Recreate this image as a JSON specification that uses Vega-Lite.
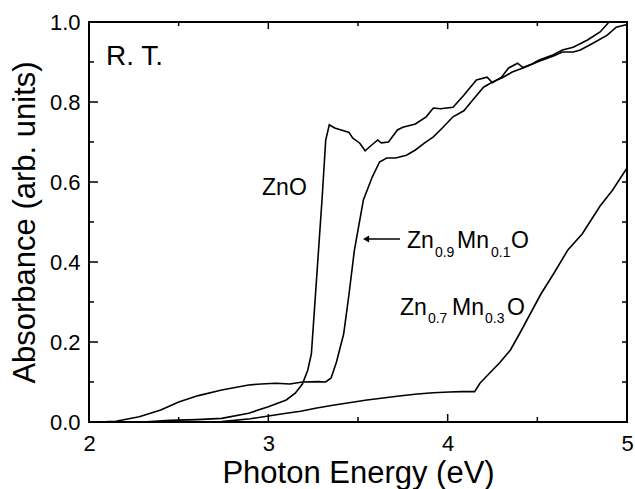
{
  "$schema": "https://vega.github.io/schema/vega-lite/v6.json",
  "width": 538,
  "height": 400,
  "autosize": {"type": "none"},
  "padding": {"left": 89, "top": 22, "right": 8, "bottom": 67},
  "config": {"view": {"stroke": "black", "strokeWidth": 2}, "font": "Liberation Sans", "background": "white"},
  "datasets": {
    "curves": [
      {"s": "ZnO", "E": 2.0, "A": 0.0}, {"s": "ZnO", "E": 2.3, "A": 0.0}, {"s": "ZnO", "E": 2.45, "A": 0.004}, {"s": "ZnO", "E": 2.6, "A": 0.006},
      {"s": "ZnO", "E": 2.74, "A": 0.009}, {"s": "ZnO", "E": 2.89, "A": 0.022}, {"s": "ZnO", "E": 3.0, "A": 0.038}, {"s": "ZnO", "E": 3.1, "A": 0.055},
      {"s": "ZnO", "E": 3.15, "A": 0.072}, {"s": "ZnO", "E": 3.19, "A": 0.095}, {"s": "ZnO", "E": 3.22, "A": 0.13}, {"s": "ZnO", "E": 3.24, "A": 0.17},
      {"s": "ZnO", "E": 3.26, "A": 0.3}, {"s": "ZnO", "E": 3.28, "A": 0.43}, {"s": "ZnO", "E": 3.3, "A": 0.56}, {"s": "ZnO", "E": 3.32, "A": 0.705},
      {"s": "ZnO", "E": 3.34, "A": 0.743}, {"s": "ZnO", "E": 3.37, "A": 0.735}, {"s": "ZnO", "E": 3.42, "A": 0.728}, {"s": "ZnO", "E": 3.45, "A": 0.724},
      {"s": "ZnO", "E": 3.47, "A": 0.71}, {"s": "ZnO", "E": 3.51, "A": 0.697}, {"s": "ZnO", "E": 3.54, "A": 0.678}, {"s": "ZnO", "E": 3.57, "A": 0.69},
      {"s": "ZnO", "E": 3.61, "A": 0.705}, {"s": "ZnO", "E": 3.63, "A": 0.698}, {"s": "ZnO", "E": 3.67, "A": 0.7}, {"s": "ZnO", "E": 3.72, "A": 0.73},
      {"s": "ZnO", "E": 3.75, "A": 0.737}, {"s": "ZnO", "E": 3.82, "A": 0.745}, {"s": "ZnO", "E": 3.88, "A": 0.763}, {"s": "ZnO", "E": 3.92, "A": 0.785},
      {"s": "ZnO", "E": 3.96, "A": 0.783}, {"s": "ZnO", "E": 4.03, "A": 0.787}, {"s": "ZnO", "E": 4.09, "A": 0.817}, {"s": "ZnO", "E": 4.16, "A": 0.855},
      {"s": "ZnO", "E": 4.22, "A": 0.862}, {"s": "ZnO", "E": 4.25, "A": 0.848}, {"s": "ZnO", "E": 4.3, "A": 0.862}, {"s": "ZnO", "E": 4.34, "A": 0.885},
      {"s": "ZnO", "E": 4.39, "A": 0.897}, {"s": "ZnO", "E": 4.42, "A": 0.886}, {"s": "ZnO", "E": 4.47, "A": 0.895}, {"s": "ZnO", "E": 4.51, "A": 0.905},
      {"s": "ZnO", "E": 4.59, "A": 0.918}, {"s": "ZnO", "E": 4.64, "A": 0.93}, {"s": "ZnO", "E": 4.7, "A": 0.937}, {"s": "ZnO", "E": 4.78, "A": 0.955},
      {"s": "ZnO", "E": 4.85, "A": 0.975}, {"s": "ZnO", "E": 4.9, "A": 1.0},
      {"s": "Mn01", "E": 2.0, "A": 0.0}, {"s": "Mn01", "E": 2.1, "A": 0.001}, {"s": "Mn01", "E": 2.15, "A": 0.002}, {"s": "Mn01", "E": 2.28, "A": 0.013},
      {"s": "Mn01", "E": 2.4, "A": 0.03}, {"s": "Mn01", "E": 2.5, "A": 0.05}, {"s": "Mn01", "E": 2.61, "A": 0.066}, {"s": "Mn01", "E": 2.74, "A": 0.08},
      {"s": "Mn01", "E": 2.89, "A": 0.0925}, {"s": "Mn01", "E": 2.96, "A": 0.095}, {"s": "Mn01", "E": 3.04, "A": 0.097}, {"s": "Mn01", "E": 3.12, "A": 0.095},
      {"s": "Mn01", "E": 3.19, "A": 0.1}, {"s": "Mn01", "E": 3.28, "A": 0.101}, {"s": "Mn01", "E": 3.32, "A": 0.1}, {"s": "Mn01", "E": 3.35, "A": 0.11},
      {"s": "Mn01", "E": 3.38, "A": 0.15}, {"s": "Mn01", "E": 3.42, "A": 0.22}, {"s": "Mn01", "E": 3.45, "A": 0.32}, {"s": "Mn01", "E": 3.48, "A": 0.43},
      {"s": "Mn01", "E": 3.53, "A": 0.555}, {"s": "Mn01", "E": 3.58, "A": 0.613}, {"s": "Mn01", "E": 3.62, "A": 0.65}, {"s": "Mn01", "E": 3.66, "A": 0.66},
      {"s": "Mn01", "E": 3.71, "A": 0.66}, {"s": "Mn01", "E": 3.77, "A": 0.667}, {"s": "Mn01", "E": 3.82, "A": 0.68}, {"s": "Mn01", "E": 3.87, "A": 0.697},
      {"s": "Mn01", "E": 3.92, "A": 0.713}, {"s": "Mn01", "E": 3.97, "A": 0.735}, {"s": "Mn01", "E": 4.03, "A": 0.763}, {"s": "Mn01", "E": 4.09, "A": 0.778},
      {"s": "Mn01", "E": 4.14, "A": 0.805}, {"s": "Mn01", "E": 4.2, "A": 0.837}, {"s": "Mn01", "E": 4.25, "A": 0.85}, {"s": "Mn01", "E": 4.31, "A": 0.862},
      {"s": "Mn01", "E": 4.36, "A": 0.875}, {"s": "Mn01", "E": 4.42, "A": 0.885}, {"s": "Mn01", "E": 4.51, "A": 0.902}, {"s": "Mn01", "E": 4.59, "A": 0.915},
      {"s": "Mn01", "E": 4.64, "A": 0.925}, {"s": "Mn01", "E": 4.7, "A": 0.925}, {"s": "Mn01", "E": 4.74, "A": 0.93}, {"s": "Mn01", "E": 4.81, "A": 0.947},
      {"s": "Mn01", "E": 4.89, "A": 0.967}, {"s": "Mn01", "E": 4.94, "A": 0.987}, {"s": "Mn01", "E": 5.0, "A": 0.994},
      {"s": "Mn03", "E": 2.0, "A": 0.0}, {"s": "Mn03", "E": 2.5, "A": 0.0}, {"s": "Mn03", "E": 2.74, "A": 0.001}, {"s": "Mn03", "E": 2.9, "A": 0.008},
      {"s": "Mn03", "E": 3.0, "A": 0.015}, {"s": "Mn03", "E": 3.1, "A": 0.022}, {"s": "Mn03", "E": 3.18, "A": 0.027}, {"s": "Mn03", "E": 3.27, "A": 0.035},
      {"s": "Mn03", "E": 3.36, "A": 0.042}, {"s": "Mn03", "E": 3.45, "A": 0.048}, {"s": "Mn03", "E": 3.55, "A": 0.055}, {"s": "Mn03", "E": 3.64, "A": 0.06},
      {"s": "Mn03", "E": 3.73, "A": 0.065}, {"s": "Mn03", "E": 3.83, "A": 0.07}, {"s": "Mn03", "E": 3.92, "A": 0.073}, {"s": "Mn03", "E": 4.01, "A": 0.075},
      {"s": "Mn03", "E": 4.08, "A": 0.076}, {"s": "Mn03", "E": 4.15, "A": 0.076}, {"s": "Mn03", "E": 4.18, "A": 0.097}, {"s": "Mn03", "E": 4.24, "A": 0.125},
      {"s": "Mn03", "E": 4.29, "A": 0.148}, {"s": "Mn03", "E": 4.35, "A": 0.18}, {"s": "Mn03", "E": 4.4, "A": 0.22}, {"s": "Mn03", "E": 4.46, "A": 0.27},
      {"s": "Mn03", "E": 4.52, "A": 0.32}, {"s": "Mn03", "E": 4.59, "A": 0.37}, {"s": "Mn03", "E": 4.67, "A": 0.43}, {"s": "Mn03", "E": 4.75, "A": 0.47},
      {"s": "Mn03", "E": 4.85, "A": 0.54}, {"s": "Mn03", "E": 4.92, "A": 0.58}, {"s": "Mn03", "E": 5.0, "A": 0.635}
    ],
    "mainText": [
      {"E": 2.965, "A": 0.5675, "t": "ZnO"},
      {"E": 3.773, "A": 0.435, "t": "Zn"}, {"E": 4.052, "A": 0.435, "t": "Mn"}, {"E": 4.353, "A": 0.435, "t": "O"},
      {"E": 3.734, "A": 0.2675, "t": "Zn"}, {"E": 4.024, "A": 0.2675, "t": "Mn"}, {"E": 4.331, "A": 0.2675, "t": "O"}
    ],
    "subText": [
      {"E": 3.929, "A": 0.4125, "t": "0.9"}, {"E": 4.242, "A": 0.4125, "t": "0.1"},
      {"E": 3.89, "A": 0.2475, "t": "0.7"}, {"E": 4.208, "A": 0.2475, "t": "0.3"}
    ],
    "rtText": [{"E": 2.095, "A": 0.8925, "t": "R. T."}],
    "arrow": [{"E": 3.545, "E2": 3.734, "A": 0.4575}],
    "xMajor": [{"v": 2}, {"v": 3}, {"v": 4}, {"v": 5}],
    "xMinor": [{"v": 2.5}, {"v": 3.5}, {"v": 4.5}],
    "yMajor": [{"v": 0}, {"v": 0.2}, {"v": 0.4}, {"v": 0.6}, {"v": 0.8}, {"v": 1.0}],
    "yMinor": [{"v": 0.1}, {"v": 0.3}, {"v": 0.5}, {"v": 0.7}, {"v": 0.9}]
  },
  "resolve": {"axis": {"x": "independent", "y": "independent"}},
  "layer": [
    {
      "data": {"name": "curves"},
      "mark": {"type": "line", "color": "black", "strokeWidth": 1.6},
      "encoding": {
        "x": {
          "field": "E", "type": "quantitative",
          "scale": {"domain": [2, 5], "nice": false, "zero": false},
          "axis": {
            "orient": "bottom", "values": [2, 3, 4, 5], "format": "d",
            "ticks": false, "tickSize": 0, "domain": false, "grid": false,
            "labelFontSize": 22, "labelPadding": 11, "labelFlush": false, "labelColor": "black",
            "title": "Photon Energy (eV)", "titleFontSize": 31, "titleFontWeight": "normal", "titlePadding": 4, "titleColor": "black"
          }
        },
        "y": {
          "field": "A", "type": "quantitative",
          "scale": {"domain": [0, 1], "nice": false},
          "axis": {
            "orient": "left", "values": [0, 0.2, 0.4, 0.6, 0.8, 1.0], "format": ".1f",
            "ticks": false, "tickSize": 0, "domain": false, "grid": false,
            "labelFontSize": 22, "labelPadding": 9, "labelFlush": false, "labelColor": "black",
            "title": "Absorbance (arb. units)", "titleFontSize": 31, "titleFontWeight": "normal", "titlePadding": 8, "titleColor": "black"
          }
        },
        "detail": {"field": "s", "type": "nominal"}
      }
    },
    {
      "data": {"name": "xMajor"},
      "mark": {"type": "rule", "color": "black", "strokeWidth": 1.5},
      "encoding": {
        "x": {"field": "v", "type": "quantitative", "axis": null},
        "y": {"datum": 0, "type": "quantitative", "axis": null},
        "y2": {"datum": 0.02}
      }
    },
    {
      "data": {"name": "xMajor"},
      "mark": {"type": "rule", "color": "black", "strokeWidth": 1.5},
      "encoding": {
        "x": {"field": "v", "type": "quantitative", "axis": null},
        "y": {"datum": 1, "type": "quantitative", "axis": null},
        "y2": {"datum": 0.9825}
      }
    },
    {
      "data": {"name": "xMinor"},
      "mark": {"type": "rule", "color": "black", "strokeWidth": 1.5},
      "encoding": {
        "x": {"field": "v", "type": "quantitative", "axis": null},
        "y": {"datum": 0, "type": "quantitative", "axis": null},
        "y2": {"datum": 0.0125}
      }
    },
    {
      "data": {"name": "xMinor"},
      "mark": {"type": "rule", "color": "black", "strokeWidth": 1.5},
      "encoding": {
        "x": {"field": "v", "type": "quantitative", "axis": null},
        "y": {"datum": 1, "type": "quantitative", "axis": null},
        "y2": {"datum": 0.99}
      }
    },
    {
      "data": {"name": "yMajor"},
      "mark": {"type": "rule", "color": "black", "strokeWidth": 1.5},
      "encoding": {
        "y": {"field": "v", "type": "quantitative", "axis": null},
        "x": {"datum": 2, "type": "quantitative", "axis": null},
        "x2": {"datum": 2.05}
      }
    },
    {
      "data": {"name": "yMinor"},
      "mark": {"type": "rule", "color": "black", "strokeWidth": 1.5},
      "encoding": {
        "y": {"field": "v", "type": "quantitative", "axis": null},
        "x": {"datum": 2, "type": "quantitative", "axis": null},
        "x2": {"datum": 2.028}
      }
    },
    {
      "data": {"name": "yMajor"},
      "mark": {"type": "rule", "color": "black", "strokeWidth": 1.5},
      "encoding": {
        "y": {"field": "v", "type": "quantitative", "axis": null},
        "x": {"datum": 5, "type": "quantitative", "axis": null},
        "x2": {"datum": 4.972}
      }
    },
    {
      "data": {"name": "yMinor"},
      "mark": {"type": "rule", "color": "black", "strokeWidth": 1.5},
      "encoding": {
        "y": {"field": "v", "type": "quantitative", "axis": null},
        "x": {"datum": 5, "type": "quantitative", "axis": null},
        "x2": {"datum": 4.972}
      }
    },
    {
      "data": {"name": "rtText"},
      "mark": {"type": "text", "align": "left", "baseline": "alphabetic", "fontSize": 28, "color": "black"},
      "encoding": {
        "x": {"field": "E", "type": "quantitative", "axis": null},
        "y": {"field": "A", "type": "quantitative", "axis": null},
        "text": {"field": "t"}
      }
    },
    {
      "data": {"name": "mainText"},
      "mark": {"type": "text", "align": "left", "baseline": "alphabetic", "fontSize": 23, "color": "black"},
      "encoding": {
        "x": {"field": "E", "type": "quantitative", "axis": null},
        "y": {"field": "A", "type": "quantitative", "axis": null},
        "text": {"field": "t"}
      }
    },
    {
      "data": {"name": "subText"},
      "mark": {"type": "text", "align": "left", "baseline": "alphabetic", "fontSize": 14, "color": "black"},
      "encoding": {
        "x": {"field": "E", "type": "quantitative", "axis": null},
        "y": {"field": "A", "type": "quantitative", "axis": null},
        "text": {"field": "t"}
      }
    },
    {
      "data": {"name": "arrow"},
      "mark": {"type": "rule", "color": "black", "strokeWidth": 1.6},
      "encoding": {
        "x": {"field": "E", "type": "quantitative", "axis": null},
        "x2": {"field": "E2"},
        "y": {"field": "A", "type": "quantitative", "axis": null}
      }
    },
    {
      "data": {"name": "arrow"},
      "mark": {"type": "point", "shape": "triangle-left", "filled": true, "color": "black", "size": 50, "opacity": 1},
      "encoding": {
        "x": {"field": "E", "type": "quantitative", "axis": null},
        "y": {"field": "A", "type": "quantitative", "axis": null}
      }
    }
  ]
}
